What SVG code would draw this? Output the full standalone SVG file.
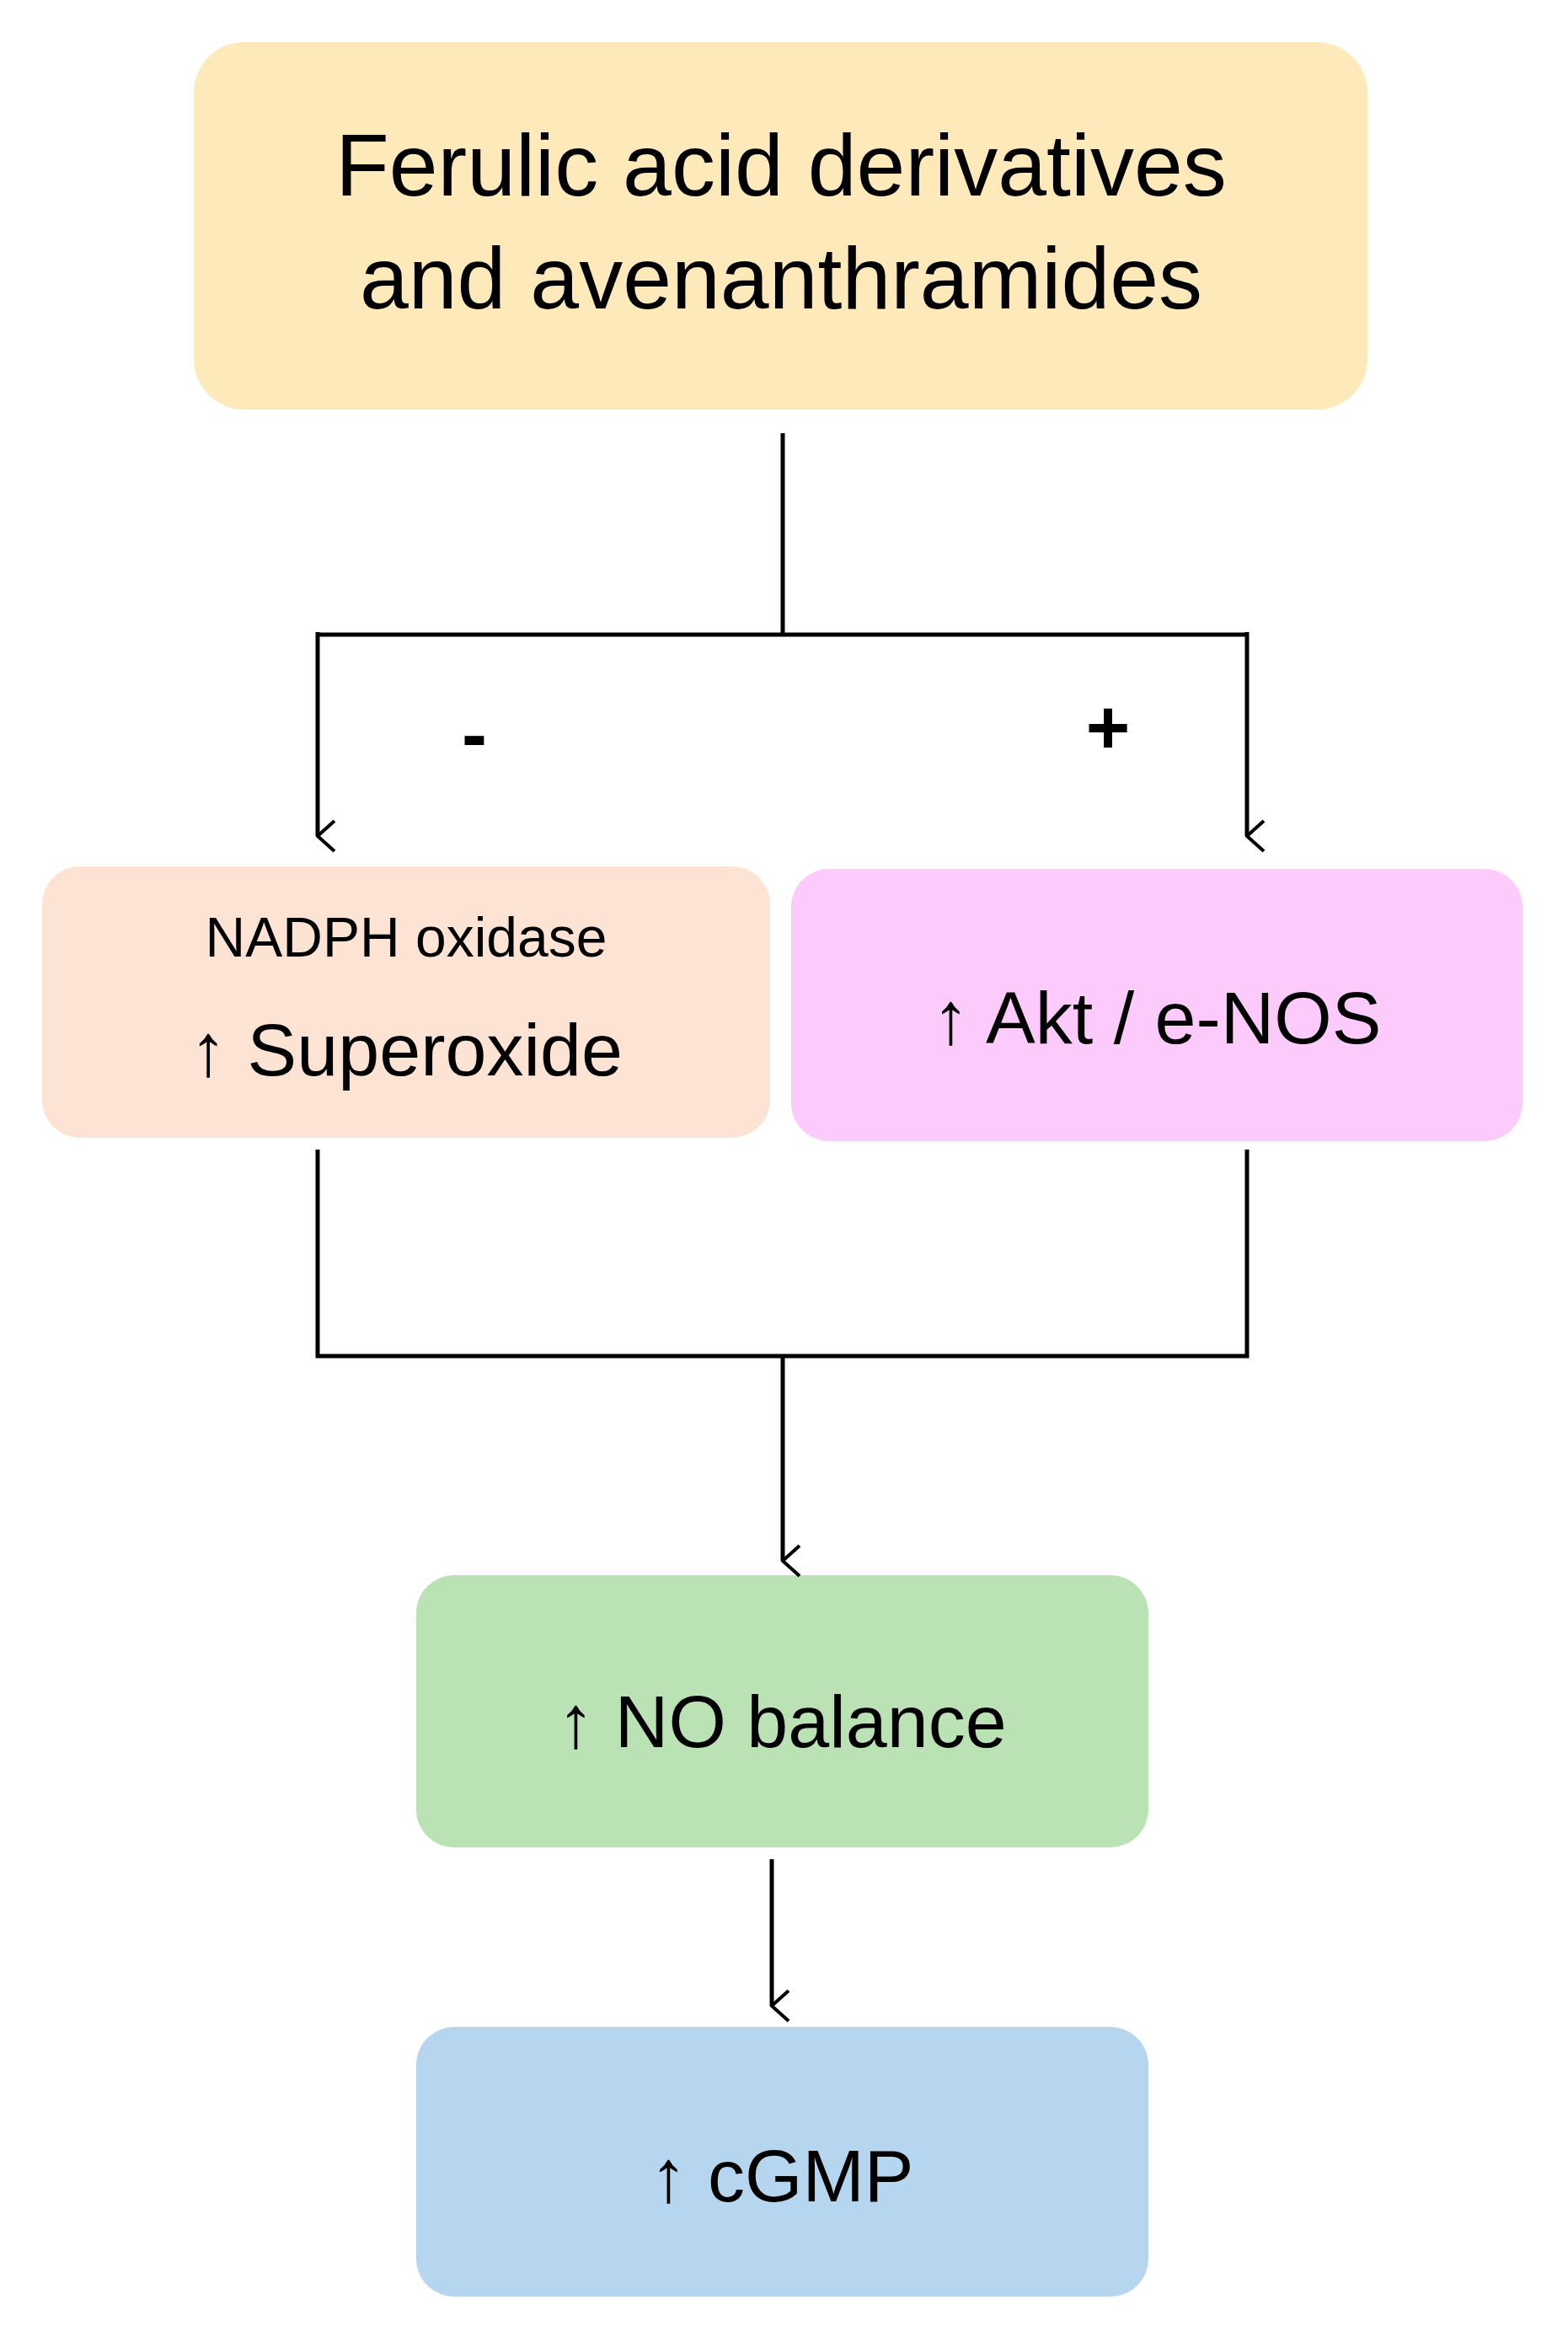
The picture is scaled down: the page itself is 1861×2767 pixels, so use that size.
<svg xmlns="http://www.w3.org/2000/svg" width="1861" height="2767" viewBox="0 0 1861 2767">
<style>
text{font-family:"Liberation Sans",Arial,sans-serif;fill:#000;text-anchor:middle}
.c{fill:none;stroke:#000;stroke-width:5}
</style>
<defs><marker id="a" markerWidth="12" markerHeight="12" refX="6" refY="10" orient="auto" markerUnits="userSpaceOnUse" viewBox="0 0 12 12"><path d="M0,0 L6,10 L12,0" fill="none" stroke="#000" stroke-width="0"/></marker>
<marker id="h" viewBox="0 0 40 40" refX="20" refY="38" markerWidth="40" markerHeight="40" markerUnits="userSpaceOnUse" orient="auto"><path d="M2,18 L20,38 L38,18" fill="none" stroke="#000" stroke-width="4"/></marker></defs>
<rect width="1861" height="2767" fill="#fff"/>
<g id="top"><rect x="230" y="50" width="1393" height="436" rx="60" fill="#fde9b9"/><text x="927" y="232" font-size="104">Ferulic acid derivatives</text><text x="927" y="366" font-size="104">and avenanthramides</text></g>
<g id="superoxide"><rect x="50" y="1028" width="864" height="322" rx="45" fill="#fde3d3"/><text x="482" y="1135" font-size="66">NADPH oxidase</text><text x="482" y="1276" font-size="88">↑ Superoxide</text></g>
<g id="akt"><rect x="939" y="1031" width="868" height="323" rx="45" fill="#fdcbfb"/><text x="1373" y="1238" font-size="88">↑ Akt / e-NOS</text></g>
<g id="no"><rect x="494" y="1869" width="869" height="323" rx="45" fill="#bbe2b5"/><text x="928" y="2073" font-size="88">↑ NO balance</text></g>
<g id="cgmp"><rect x="494" y="2405" width="869" height="320" rx="45" fill="#b5d6ee"/><text x="928" y="2612" font-size="88">↑ cGMP</text></g>
<g id="connectors">
<path class="c" d="M929,514 V753"/>
<path class="c" d="M377,753 H1480"/>
<path class="c" d="M377,750 V992" marker-end="url(#h)"/>
<path class="c" d="M1480,750 V992" marker-end="url(#h)"/>
<path class="c" d="M377,1364 V1609 H1480 V1364"/>
<path class="c" d="M929,1609 V1852" marker-end="url(#h)"/>
<path class="c" d="M916,2206 V2380" marker-end="url(#h)"/>
<text x="563" y="902" font-size="90" font-weight="bold">-</text>
<text x="1315" y="894" font-size="90" font-weight="bold">+</text>
</g>
</svg>
